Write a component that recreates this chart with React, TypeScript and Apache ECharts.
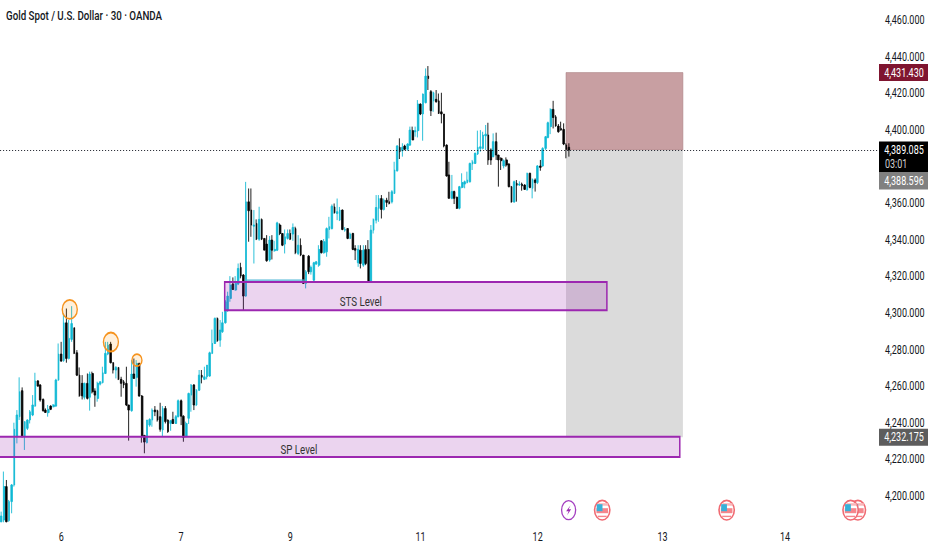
import React, { useEffect, useRef } from "react";
import * as echarts from "echarts";

const FONT = 'Roboto,"Noto Sans",sans-serif';
const TITLE = "Gold Spot / U.S. Dollar · 30 · OANDA";
const SQUEEZE = 0.75; // the reference is a horizontally condensed screenshot
const px = (x: number) => x / SQUEEZE;

// rows are [open, close, low, high]
const candlesFirst = [
[4186,4189.1,4185.7,4191.5],[4187,4205.2,4185.7,4213.4],[4205.2,4186,4185.7,4208.8],[4186.6,4197,4186,4197.9],
[4197,4206.1,4190.6,4206.6],[4206.1,4236.5,4205.2,4240.1],[4232.5,4244.3,4228.8,4247],[4243.4,4257,4241.6,4264.9],
[4257.6,4232.5,4232.1,4259.4],[4232.5,4240.7,4225.2,4240.7],[4237,4241.6,4236.1,4241.9],[4241.6,4246.1,4239.7,4247],
[4244.3,4249.8,4243.7,4255.2],[4249.2,4262.9,4248.8,4267.4],[4262.9,4260.1,4259.8,4263.4],[4260.7,4252.5,4251.6,4261.2],
[4252.8,4246.7,4246.1,4253.4],[4247,4245.7,4245.6,4247.9],[4245.6,4247.4,4243.4,4249.8],[4249.2,4247.4,4247,4249.6],
[4248.8,4249.8,4248.5,4250.3],[4249.2,4263.4,4248.8,4264.1],[4263.4,4277.6,4263,4283.4],[4277.6,4273.8,4273.4,4284.3],
[4274,4294.7,4273.4,4299.8],[4294.7,4275.2,4272.9,4302.5],[4275.2,4286.2,4274.7,4296.2],[4285.6,4294.3,4284.3,4303.8],
[4292,4278,4277.6,4292],[4278.3,4266.1,4265.6,4279.8],[4266.1,4254.8,4254.3,4270.3],[4261.6,4254.8,4252.8,4266.1],
[4254,4261.6,4252.8,4262],[4261.6,4253.4,4252.8,4267],[4254,4266.7,4246.7,4268],[4267,4257,4256.1,4268],
[4257.4,4255.2,4248.8,4258.9],[4253.4,4261.6,4251.6,4262.5],[4261.2,4262.5,4260.5,4262.5],[4262,4267.4,4261.6,4270.7],
[4267,4278,4266.7,4284.3],[4277.6,4282.5,4277,4284.3],[4283.1,4272.9,4272.5,4284.3],[4272.9,4268.9,4267,4273.2],
[4268.9,4270.3,4264.3,4271],[4270.3,4263.8,4263.4,4270.3],[4263.8,4261.6,4254.3,4265.2],[4262.5,4260.7,4259,4263.4],
[4261.6,4249.8,4249.2,4270.7],[4249.8,4247,4230.3,4249.8],[4246.7,4266.7,4246.1,4274.3],[4266.7,4264.3,4264.3,4275.2],
[4264.9,4272.5,4259.8,4274.3],[4272.5,4254.7,4254.3,4272.9],[4254.7,4232.8,4229.2,4255.2],[4233.2,4229.5,4223.4,4233.2],
[4229.2,4241.6,4228.8,4241.6],[4238.8,4241.9,4237.9,4242.5],[4241.6,4247,4237.9,4247.9],[4247,4246.1,4243.7,4249.2],
[4246.7,4241.6,4240.7,4247.2],[4243.4,4236.5,4235.2,4251],[4236.1,4247.9,4232.8,4249.2],[4247.9,4240.7,4239.7,4249.2],
[4241.6,4235.2,4234.6,4241.9],[4239.7,4241.2,4235.7,4241.6],[4241.9,4239.7,4239.4,4246.1],[4239.7,4243.4,4239.4,4244.3],
[4243.4,4252.1,4243,4252.8],[4252.1,4243.7,4238.8,4252.8],[4243.7,4232.1,4229.7,4244.1],[4232.5,4239.7,4232.1,4240.7],
[4242.5,4256.1,4239.4,4256.5],[4255.2,4260.7,4246.1,4261.2],[4260.7,4249.8,4247,4261.2],[4249.8,4257.9,4249.2,4258.5],
[4257.9,4266.1,4257.4,4268.9],[4266.1,4264.9,4261.6,4268.9],[4263.8,4265.2,4263.4,4270.7],[4265.2,4271.6,4263.8,4271.6],
[4265.6,4278.3,4265.2,4278.9],[4278,4283.4,4277.6,4291],[4283.4,4297.1,4283.1,4297.6],[4297.1,4284.9,4284.3,4297.6],
[4285.2,4290.7,4281.6,4296.2],[4289.8,4294.7,4289.2,4300.7],[4294.7,4306.2,4294.3,4307.1],
];
const candlesSecond = [
[4301.7,4309.3,4300.7,4311.7],[4308,4315.3,4306.2,4320.2],[4315.9,4312.9,4312.6,4319.5],[4312.6,4316.2,4312.2,4320.2],
[4315.9,4324.4,4315.3,4327.1],[4325,4320.2,4319,4327.5],[4320.8,4309.3,4301.3,4321.3],[4309.3,4360.8,4308.9,4371.7],
[4360.8,4355.9,4339,4368.1],[4356.3,4348.1,4341.7,4368.1],[4347.5,4348.1,4327.1,4356.3],[4349,4340.4,4339.9,4351.2],
[4340.4,4351.2,4339.5,4358.1],[4351.2,4340.4,4339.9,4351.7],[4340.8,4334.4,4334.4,4340.8],[4337.7,4328.6,4328.1,4342.6],
[4329,4339.9,4328.1,4342.1],[4339.9,4334.4,4329.3,4342.6],[4334.1,4334.8,4333.5,4339.5],[4334.4,4349.3,4333.9,4349.9],
[4348.1,4343.5,4342.6,4349],[4343.5,4337.1,4336.6,4343.5],[4337.7,4341.7,4332.6,4345.7],[4340.8,4343.5,4340.2,4345.7],
[4343.5,4340.4,4339.9,4345.7],[4343.2,4346.8,4339.5,4349],[4346.2,4333,4332.2,4347.2],[4332.6,4337.1,4331.7,4342.6],
[4337.1,4331.7,4331.1,4340.8],[4331.7,4316.2,4315.9,4331.7],[4316.2,4322.6,4313.5,4323.5],[4331.1,4322.6,4321.3,4331.7],
[4322.6,4325,4321,4326],[4318,4327.5,4317.5,4328],[4326.8,4328,4326.4,4328.5],[4326.2,4334.8,4325.3,4337.1],
[4339.5,4333,4332.6,4339.9],[4333,4339,4332.5,4340.5],[4333.5,4346.2,4330.8,4346.8],[4345.7,4347.2,4340.8,4352.6],
[4346.2,4358.4,4345.7,4359.4],[4358,4354.8,4354.4,4359.9],[4354.4,4355.4,4350.8,4362.6],[4350.8,4356.3,4350.3,4358],
[4356.3,4345.7,4345.3,4356.6],[4345.3,4345.7,4344.5,4347],[4346.2,4340.8,4340.4,4346.2],[4340.8,4343.2,4340.4,4344],
[4343.5,4334.8,4334.4,4343.9],[4335.3,4334.4,4329,4337.1],[4327.5,4334.8,4325.3,4337.1],[4334.4,4327.1,4324.4,4337.1],
[4326.2,4334.4,4325.3,4337.1],[4334.8,4327.1,4326.2,4337.1],[4334.8,4317.1,4317.1,4339.9],[4317.1,4345.3,4316.6,4348.1],
[4345.3,4351.2,4343.5,4351.7],[4350.8,4357.7,4349,4364.5],[4357.2,4362.6,4349.9,4364.5],[4362.6,4356.6,4351.7,4364.5],
[4356.6,4361.7,4356.1,4362.6],[4361.7,4360.5,4358,4363],[4360.8,4359.9,4359.4,4366.3],[4360.8,4366.3,4359.9,4367.2],
];
const candlesThird = [
[4365.4,4378.2,4365.1,4382.7],[4377.8,4391.3,4377.3,4391.8],[4390.6,4388.2,4384.2,4395.5],[4388.7,4390.6,4385.5,4392.8],
[4391.3,4389.5,4389,4392],[4389.5,4392.4,4388.7,4392.8],[4391.8,4400,4391.3,4401.9],[4399.7,4394.6,4394.6,4401.9],
[4399.1,4399.7,4396.4,4401.9],[4399.7,4414.2,4396,4416.4],[4414.2,4408.8,4408.2,4414.6],[4408.8,4419.7,4394.2,4420],
[4415,4429.5,4414.6,4433.7],[4429.5,4428.2,4421.9,4435],[4421,4410.6,4407.7,4421.9],[4416,4420.4,4410,4421],
[4416.8,4415.5,4415,4421.9],[4416,4409.1,4408.8,4420],[4410,4408.8,4403.7,4420.4],[4408.8,4391.3,4390.6,4408.8],
[4391.8,4374.9,4374.6,4392.2],[4375.5,4362.7,4362.7,4382.7],[4362.7,4366.4,4362.2,4375.5],[4366.4,4362.7,4359.6,4366.9],
[4363.3,4357.3,4356.9,4363.6],[4357.3,4369.1,4356.7,4369.5],[4368.7,4371.3,4368.2,4376.4],[4370.5,4371.8,4368.2,4372.4],
[4371.3,4372.7,4370.9,4377.3],[4371.8,4381.8,4371.3,4382.2],[4381.5,4382.7,4378.2,4383.7],[4381.8,4387.3,4381.5,4387.7],
[4386.9,4390.6,4386.4,4399.7],[4390,4390.9,4388.2,4400],[4390,4397.3,4389.5,4399.1],[4396.8,4397.8,4389.1,4402.8],
[4397.3,4383.7,4381,4404],[4389.1,4383.7,4381,4390],[4385.5,4393.7,4385.1,4398.2],[4393.7,4386.4,4383.7,4398.6],
[4386.4,4383.7,4369.1,4386.4],[4384.6,4383.3,4378.2,4385.1],[4380.4,4383.3,4379.1,4384],[4383.7,4380.9,4380,4385.1],
[4381.5,4369.1,4368.7,4381.8],[4369.1,4360.7,4360.4,4369.5],[4360.7,4371.8,4360.4,4372.4],[4370.9,4369.8,4360.9,4372.7],
[4370,4370.5,4369.5,4372],[4370.5,4369.5,4366.9,4371.3],[4370,4367.6,4367.3,4370.4],[4367.3,4376.4,4366.9,4376.7],
[4376.4,4368.7,4368.2,4376.7],[4368.2,4373.1,4362.7,4373.6],[4372.7,4371.3,4366.4,4373.6],[4371.3,4380.4,4370.5,4380.9],
[4380.4,4379.6,4377.8,4383.7],[4380.4,4390,4380,4390.6],[4390,4396.4,4389.1,4396.8],[4396,4404,4395.5,4404.6],
[4401.9,4411.3,4397.8,4411.9],[4411.3,4406.9,4400.9,4416],[4407.3,4402.2,4401.9,4408.2],[4402.2,4399.1,4398.6,4403.3],
[4400.9,4400,4399.7,4404.6],[4400.4,4392.4,4391.8,4403.7],[4391.8,4389.5,4384.6,4392.8],[4390.6,4389.085,4385.5,4392.8],
];
const candles = [...candlesFirst, ...candlesSecond, ...candlesThird];

const BAR_SLOTS = 338;
const dayLabels: Record<number, string> = { 23: "6", 69: "7", 111: "9", 161: "11", 206: "12", 254: "13", 301: "14" };
const categories = Array.from({ length: BAR_SLOTS }, (_, i) => dayLabels[i] ?? "");
const hiddenTicks = [4180, 4380];

// [fromBar, toBar, low, high]
const positionZones = [
  [217.4, 262.3, 4389.085, 4431.43],
  [217.4, 262.3, 4232.175, 4389.085],
];
const levelZones = [
  [86.3, 233.1, 4301.6, 4317],
  [-3, 261.1, 4221.3, 4232.4],
];
const levelNames = ["STS Level", "SP Level"];
const levelNameAt = [[138.6, 4306.6], [114.8, 4225.7]];
const swingMarks = [[26.8, 4302], [42.6, 4284.2], [52.6, 4274.3]];
const swingSizes = ["big", "big", "small"];
const trendLine = [[94, 4318], [117, 4318]];
const lastPrice = 4389.085;
const eventMarks = [[218.4, 4192.3], [231.3, 4192.3], [279.1, 4192.3], [329.5, 4192.3], [326.7, 4192.3]];
const eventKinds = ["bolt", "flag", "flag", "flag", "flag"];
const priceTags = [
  [4431.43, 0], [4389.085, 0], [4388.596, 30], [4232.175, 0],
];
const priceTagText = ["4,431.430", "4,389.085", "4,388.596", "4,232.175"];
const priceTagFill = ["#7f1530", "#000000", "#808080", "#5d5d5d"];
const countdown = "03:01";

echarts.graphic.registerShape(
  "tvBolt",
  echarts.graphic.extendPath("M2 -5 L-2.5 1 L0 1 L-1.5 5 L2.5 -1 L0 -1 Z", {})
);

function renderBox(colors: { fill: string; stroke: string; width: number }[]) {
  return (params: any, api: any) => {
    const a = api.coord([api.value(0), api.value(3)]);
    const b = api.coord([api.value(1), api.value(2)]);
    const c = colors[params.dataIndex];
    return {
      type: "rect",
      shape: { x: a[0], y: a[1], width: b[0] - a[0], height: b[1] - a[1] },
      style: { fill: c.fill, stroke: c.stroke, lineWidth: c.width },
    };
  };
}

export default function App() {
  const ref = useRef<HTMLDivElement>(null);
  useEffect(() => {
    document.body.style.margin = "0";
    const chart = echarts.init(ref.current!, undefined, { renderer: "svg", width: px(932), height: 550 });
    const customBase = { type: "custom", xAxisIndex: 1, yAxisIndex: 0, silent: true, clip: false };
    chart.setOption({
      animation: false,
      backgroundColor: "#ffffff",
      title: {
        text: TITLE,
        left: px(6),
        top: 9,
        padding: 0,
        textStyle: { fontFamily: FONT, fontSize: 13, fontWeight: 500, color: "#131722" },
      },
      grid: { left: 0, top: 2, width: px(880), height: 530.7, outerBoundsMode: "none" },
      xAxis: [
        {
          type: "category",
          data: categories,
          boundaryGap: true,
          axisLine: { show: false },
          axisTick: { show: false },
          splitLine: { show: false },
          axisLabel: { interval: 0, margin: -2, fontFamily: FONT, fontSize: 12, color: "#131722", hideOverlap: false },
        },
        { type: "value", min: 0, max: BAR_SLOTS, show: false },
      ],
      yAxis: {
        type: "value",
        position: "right",
        min: 4180,
        max: 4470,
        interval: 20,
        axisLine: { show: false },
        axisTick: { show: false },
        splitLine: { show: false },
        axisLabel: {
          margin: px(5),
          fontFamily: FONT,
          fontSize: 12,
          color: "#131722",
          formatter: (v: number) =>
            hiddenTicks.includes(v) || v % 20 !== 0
              ? ""
              : v.toLocaleString("en-US", { minimumFractionDigits: 3, maximumFractionDigits: 3 }),
        },
      },
      series: [
        {
          ...customBase,
          z: 1,
          data: positionZones,
          encode: { x: [0, 1], y: [2, 3] },
          renderItem: renderBox([
            { fill: "#c89fa2", stroke: "#a57a7e", width: 0.6 },
            { fill: "#dbdbdb", stroke: "none", width: 0 },
          ]),
        },
        {
          type: "candlestick",
          xAxisIndex: 0,
          yAxisIndex: 0,
          z: 2,
          barWidth: 2.2,
          data: candles,
          itemStyle: { color: "#0fb8d4", color0: "#000000", borderColor: "#0fb8d4", borderColor0: "#000000", borderWidth: 1 },
          markLine: {
            silent: true,
            symbol: "none",
            label: { show: false },
            lineStyle: { color: "#131722", type: [1.5, 2.5], width: 1 },
            data: [{ yAxis: lastPrice }],
          },
        },
        {
          ...customBase,
          z: 3,
          data: trendLine,
          renderItem: (params: any, api: any) => {
            if (params.dataIndex !== 0) return null;
            const a = api.coord(trendLine[0]);
            const b = api.coord(trendLine[1]);
            return { type: "line", shape: { x1: a[0], y1: a[1], x2: b[0], y2: b[1] }, style: { stroke: "#4fb6d6", lineWidth: 1.2 } };
          },
        },
        {
          ...customBase,
          z: 4,
          data: levelZones,
          encode: { x: [0, 1], y: [2, 3] },
          renderItem: renderBox([
            { fill: "rgba(156,39,176,0.2)", stroke: "#9c27b0", width: 2 },
            { fill: "rgba(156,39,176,0.2)", stroke: "#9c27b0", width: 2 },
          ]),
        },
        {
          ...customBase,
          z: 5,
          data: levelNameAt,
          renderItem: (params: any, api: any) => {
            const p = api.coord([api.value(0), api.value(1)]);
            return {
              type: "text",
              style: { text: levelNames[params.dataIndex], x: p[0], y: p[1], align: "center", verticalAlign: "middle", fontFamily: FONT, fontSize: 13, fill: "#333333" },
            };
          },
        },
        {
          ...customBase,
          z: 5,
          data: swingMarks,
          renderItem: (params: any, api: any) => {
            const p = api.coord([api.value(0), api.value(1)]);
            const big = swingSizes[params.dataIndex] === "big";
            return {
              type: "ellipse",
              shape: { cx: p[0], cy: p[1], rx: px(big ? 7.5 : 5), ry: big ? 9.5 : 6 },
              style: { fill: "rgba(255,152,0,0.14)", stroke: "#f6931e", lineWidth: 1.8 },
            };
          },
        },
        {
          ...customBase,
          z: 5,
          data: eventMarks,
          renderItem: (params: any, api: any) => {
            const p = api.coord([api.value(0), api.value(1)]);
            if (eventKinds[params.dataIndex] === "bolt") {
              return {
                type: "group",
                x: p[0],
                y: p[1],
                scaleX: 1 / SQUEEZE,
                children: [
                  { type: "ellipse", shape: { cx: 0, cy: 0, rx: 7, ry: 9.5 }, style: { fill: "#ffffff", stroke: "#a43fc0", lineWidth: 1.3 } },
                  { type: "tvBolt", style: { fill: "#9c27b0" }, scaleX: 1, scaleY: 1 },
                ],
              };
            }
            return {
              type: "group",
              x: p[0],
              y: p[1],
              scaleX: 1 / SQUEEZE,
              children: [
                { type: "ellipse", shape: { cx: 0, cy: 0, rx: 7.6, ry: 9.8 }, style: { fill: "#ffffff", stroke: "#f06a72", lineWidth: 1.6 } },
                { type: "rect", shape: { x: -5.8, y: -2, width: 11.6, height: 5 }, style: { fill: "#f5868c" } },
                { type: "rect", shape: { x: -4, y: -7, width: 10, height: 2.5 }, style: { fill: "#f9b6b9" } },
                { type: "rect", shape: { x: -5.5, y: -6, width: 5.8, height: 7 }, style: { fill: "#38b0d8" } },
                { type: "rect", shape: { x: -4.5, y: 5.5, width: 9, height: 1.4 }, style: { fill: "#f5868c" } },
              ],
            };
          },
        },
        {
          ...customBase,
          z: 6,
          data: priceTags,
          renderItem: (params: any, api: any) => {
            const i = params.dataIndex;
            const p = api.coord([0, api.value(0)]);
            const cy = p[1] + api.value(1);
            const isLast = priceTagText[i] === priceTagText[1];
            const children: any[] = [
              { type: "rect", shape: { x: px(879), y: cy - 8.5, width: px(49), height: isLast ? 31 : 17 }, style: { fill: priceTagFill[i] } },
              { type: "text", style: { text: priceTagText[i], x: px(904), y: cy, align: "center", verticalAlign: "middle", fontFamily: FONT, fontSize: 12, fill: "#ffffff" } },
            ];
            if (isLast) {
              children.push({ type: "text", style: { text: countdown, x: px(885), y: cy + 14, align: "left", verticalAlign: "middle", fontFamily: FONT, fontSize: 12, fill: "#d0d0d0" } });
            }
            return { type: "group", children };
          },
        },
      ],
    });
    return () => chart.dispose();
  }, []);
  return (
    <div style={{ width: 932, height: 550, overflow: "hidden", position: "absolute", left: 0, top: 0 }}>
      <div ref={ref} style={{ width: px(932), height: 550, transform: `scaleX(${SQUEEZE})`, transformOrigin: "0 0" }} />
    </div>
  );
}
